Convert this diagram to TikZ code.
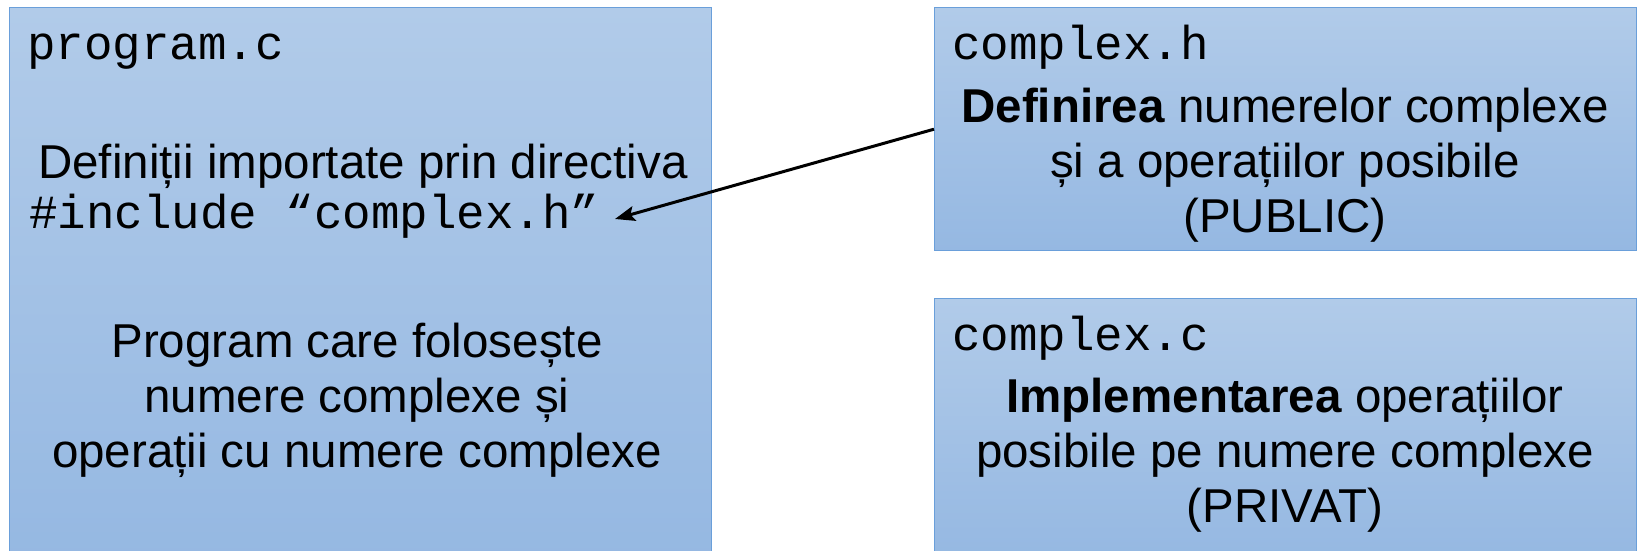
\documentclass[tikz,border=0pt]{standalone}
\usepackage{fontspec}
\setmainfont{Liberation Sans}
\setmonofont{Liberation Mono}
\usetikzlibrary{arrows.meta}

\definecolor{boxtop}{HTML}{B1CBE9}
\definecolor{boxbot}{HTML}{95B8E2}
\definecolor{boxline}{HTML}{6A9FDA}

\tikzset{
  filebox/.style={rectangle, draw=boxline, line width=0.7pt,
    top color=boxtop, bottom color=boxbot, inner sep=0pt, anchor=north west},
  fname/.style={anchor=base west, inner sep=0pt,
    font=\fontsize{23.75}{27.3}\ttfamily},
  txt/.style={anchor=base, align=center, inner sep=0pt,
    font=\fontsize{23.75}{27.3}\selectfont},
}

\begin{document}
\begin{tikzpicture}[x=0.5pt,y=-0.5pt,>={Stealth[length=10pt,width=7.5pt,inset=2pt]}]
\useasboundingbox (0,0) rectangle (1638,551);
% the three files
\node[filebox,minimum width=351pt,minimum height=277pt] (prog) at (9,7) {};
\node[filebox,minimum width=351pt,minimum height=121.5pt] (hbox) at (934,7) {};
\node[filebox,minimum width=351pt,minimum height=131pt] (cbox) at (934,298) {};

% file names
\node[fname] (progname) at (27,60) {program.c};
\node[fname] (hname) at (952,60) {complex.h};
\node[fname] (cname) at (952,350) {complex.c};

% program.c (base of a multi-line node is its last line)
\node[txt] (defs) at (363,178) {Definiții importate prin directiva};
\node[fname] (incl) at (29,228) {\#include “complex.h”};
\node[txt] (uses) at (357,467) {Program care folosește\\numere complexe și\\operații cu numere complexe};

% complex.h and complex.c
\node[txt] (hdesc) at (1285,232) {\textbf{Definirea} numerelor complexe\\și a operațiilor posibile\\(PUBLIC)};
\node[txt] (cdesc) at (1285,522) {\textbf{Implementarea} operațiilor\\posibile pe numere complexe\\(PRIVAT)};

\coordinate (dst) at (615,219);
\draw[->,line width=1.5pt] (hbox.west) -- (dst);
\end{tikzpicture}
\end{document}
